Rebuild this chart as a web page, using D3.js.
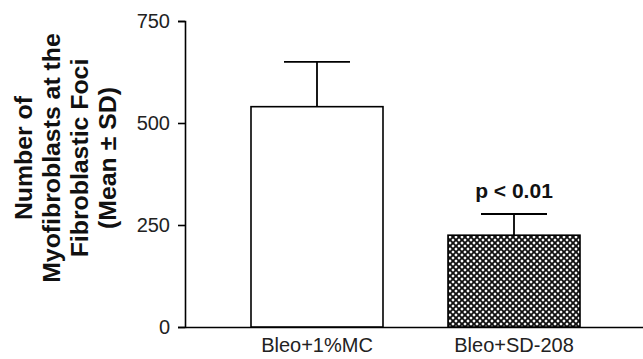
<!DOCTYPE html>
<html>
<head>
<meta charset="utf-8">
<script src="https://cdn.jsdelivr.net/npm/d3@7"></script>
<style>
  body { margin: 0; background: #fff; }
  svg { display: block; font-family: "Liberation Sans", Arial, sans-serif; }
</style>
</head>
<body>
<div id="chart"></div>
<script>
// data
const groups = ["Bleo+1%MC", "Bleo+SD-208"];
const means = [540, 225];
const sds = [110, 52];
const yTicks = [0, 250, 500, 750];
const titleLines = ["Number of", "Myofibroblasts at the", "Fibroblastic Foci", "(Mean \u00b1 SD)"];
const pLabel = "p < 0.01";

const width = 643, height = 359;

const svg = d3.select("#chart").append("svg")
  .attr("width", width)
  .attr("height", height);

// crosshatch pattern for the treated bar
const pat = svg.append("defs").append("pattern")
  .attr("id", "hatch")
  .attr("patternUnits", "userSpaceOnUse")
  .attr("width", 6)
  .attr("height", 6);
pat.append("rect").attr("width", 6).attr("height", 6).attr("fill", "#fff");
pat.append("path")
  .attr("d", "M0,0 L6,6 M6,0 L0,6 M-1,5 L1,7 M5,-1 L7,1 M-1,1 L1,-1 M5,7 L7,5")
  .attr("stroke", "#111")
  .attr("stroke-width", 1.9);

const y = d3.scaleLinear().domain([0, 750]).range([327, 21]);
const x = d3.scaleBand().domain(groups).range([185, 646]).paddingInner(0.33).paddingOuter(0.335);

// y axis
const yAxis = svg.append("g")
  .attr("transform", "translate(185,0)")
  .call(d3.axisLeft(y).tickValues(yTicks).tickSize(7).tickPadding(8));
yAxis.select(".domain").attr("stroke", "#000").attr("stroke-width", 1.6);
yAxis.selectAll(".tick line").attr("stroke", "#000").attr("stroke-width", 1.6);
yAxis.selectAll(".tick text")
  .attr("font-size", 20)
  .attr("font-family", "Liberation Sans, Arial, sans-serif")
  .attr("fill", "#222");

// x axis
const xAxis = svg.append("g")
  .attr("transform", "translate(0,327)")
  .call(d3.axisBottom(x).tickSize(0).tickPadding(11));
xAxis.select(".domain").attr("stroke", "#000").attr("stroke-width", 1.6);
xAxis.selectAll(".tick text")
  .attr("font-size", 20)
  .attr("font-family", "Liberation Sans, Arial, sans-serif")
  .attr("fill", "#222");

// error bars (drawn under bars)
const err = svg.append("g").attr("stroke", "#000").attr("stroke-width", 1.8);
groups.forEach((g, i) => {
  const cx = x(g) + x.bandwidth() / 2;
  err.append("line")
    .attr("x1", cx).attr("x2", cx)
    .attr("y1", y(means[i])).attr("y2", y(means[i] + sds[i]));
  err.append("line")
    .attr("x1", cx - x.bandwidth() / 4).attr("x2", cx + x.bandwidth() / 4)
    .attr("y1", y(means[i] + sds[i])).attr("y2", y(means[i] + sds[i]));
});

// bars
svg.append("g").selectAll("rect")
  .data(groups)
  .join("rect")
  .attr("x", d => x(d))
  .attr("y", (d, i) => y(means[i]))
  .attr("width", x.bandwidth())
  .attr("height", (d, i) => y(0) - y(means[i]))
  .attr("fill", (d, i) => i === 0 ? "#fff" : "url(#hatch)")
  .attr("stroke", "#000")
  .attr("stroke-width", 1.6);

// significance label
svg.append("text")
  .attr("x", x(groups[1]) + x.bandwidth() / 2)
  .attr("y", y(means[1] + sds[1]) - 16)
  .attr("text-anchor", "middle")
  .attr("font-size", 21)
  .attr("font-weight", "bold")
  .attr("fill", "#111")
  .text(pLabel);

// y title, rotated
const title = svg.append("g")
  .attr("transform", "translate(0,158) rotate(-90) scale(1.08,1)");
title.selectAll("text")
  .data(titleLines)
  .join("text")
  .attr("x", 0)
  .attr("y", (d, i) => 32 + i * 28)
  .attr("text-anchor", "middle")
  .attr("font-size", 23)
  .attr("font-weight", "bold")
  .attr("fill", "#111")
  .text(d => d);
</script>
</body>
</html>
